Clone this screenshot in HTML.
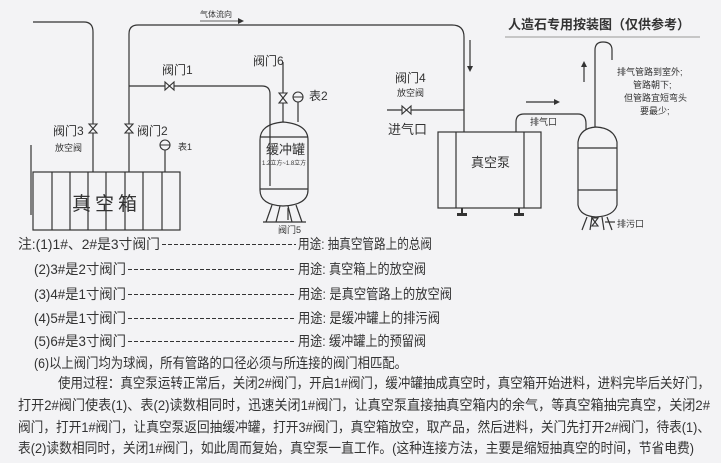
<!DOCTYPE html><html><head><meta charset="utf-8"><style>
body{margin:0;background:#f3f3f5}
svg{display:block}
text{font-family:"Liberation Sans","Noto Sans CJK SC",sans-serif;fill:#333}
.n{font-family:"Noto Serif CJK SC","Noto Sans CJK SC",sans-serif;font-size:14px;fill:#222}
</style></head><body>
<svg width="721" height="463" viewBox="0 0 721 463" xmlns="http://www.w3.org/2000/svg">
<rect width="721" height="463" fill="#f3f3f5"/>
<g fill="none" stroke="#333" stroke-width="1.2">
<path d="M33 22 H84 Q93 22 93 32 V172"/>
<path d="M129 172 V34 Q129 25 138 25 H452 Q464 25 464 37 V132"/>
<path d="M129 86 H262 Q270 86 270 94 V186"/>
<path d="M165 150 V172"/>
<rect x="33" y="172" width="147" height="58"/>
<path d="M52 172V230M70 172V230M88 172V230M106 172V230M125 172V230M143 172V230M162 172V230"/>
<path d="M31 145 V215"/>
<path d="M260 140 Q260 124 283 122 Q308 124 308 140 V190 Q308 205 283 206 Q260 205 260 190 Z"/>
<path d="M260 189 H308 M260 137 H308"/>
<path d="M283 62 V122 M298 102 V122"/>
<path d="M272 205 L266 222 M280 206 L276 222 M288 206 L292 222 M296 205 L302 222 M263 222 H306"/>
<path d="M288 208 V220"/>
<rect x="438" y="132" width="103" height="76"/>
<path d="M456 132V208M524 132V208"/>
<path d="M462 208V215M519 208V215"/>
<path d="M387 110 H464"/>
<path d="M516 132 V122 Q516 114 524 114 H578 Q586 114 586 124 V130"/>
<path d="M578 142 Q580 128 596 127 Q614 128 617 142 V205 Q614 216 596 217 Q580 216 578 205 Z"/>
<path d="M578 148 H617 M578 190 H617"/>
<path d="M595 127 V50 Q595 42 603 42 Q612 42 612 50 V60"/>
<path d="M587 217 L582 230 M592 217 L590 230 M602 217 L604 230 M607 217 L612 230"/>
<path d="M605 222 H615"/>
<path d="M505 37 H700" stroke="#aaa"/>
<path d="M200 21 H238" stroke-width="0.8"/>
<path d="M470 40 V68"/>
<path d="M584 82 V66"/>
<path d="M526 102 H555"/>
</g>
<g fill="#333">
<path d="M238 18 L244 21 L238 24Z"/>
<path d="M467 66 L470 72 L473 66Z"/>
<path d="M581 67 L584 61 L587 67Z"/>
<path d="M554 99 L560 102 L554 105Z"/>
<rect x="457" y="213" width="10" height="3"/><rect x="514" y="213" width="10" height="3"/>
<rect x="461" y="208" width="2" height="6"/><rect x="518" y="208" width="2" height="6"/>
</g>
<g fill="#f3f3f5" stroke="#333" stroke-width="1.1">
<path d="M89 124 L97 124 L89 133 L97 133Z"/>
<path d="M125 124 L133 124 L125 133 L133 133Z"/>
<path d="M165 82 L165 90 L174 82 L174 90Z"/>
<path d="M279 93 L287 93 L279 103 L287 103Z"/>
<path d="M402 106 L402 114 L411 106 L411 114Z"/>
<path d="M592 218 L598 218 L592 226 L598 226Z"/>
<circle cx="165" cy="145" r="5"/><circle cx="298" cy="97" r="5"/>
</g>
<path d="M160 145H170M293 97H303" stroke="#333"/>
<text x="200" y="17" font-size="8">气体流向</text>
<text x="162" y="74" font-size="12">阀门1</text>
<text x="253" y="65" font-size="12">阀门6</text>
<text x="309" y="100" font-size="12">表2</text>
<text x="53" y="135" font-size="12">阀门3</text>
<text x="55" y="151" font-size="9">放空阀</text>
<text x="137" y="135" font-size="12">阀门2</text>
<text x="178" y="150" font-size="9">表1</text>
<text x="72" y="210" font-size="19" letter-spacing="4">真空箱</text>
<text x="266" y="154" font-size="13">缓冲罐</text>
<text x="262" y="165" font-size="6" fill="#777">1.2立方~1.8立方</text>
<text x="278" y="233" font-size="9">阀门5</text>
<text x="395" y="82" font-size="12">阀门4</text>
<text x="397" y="96" font-size="9">放空阀</text>
<text x="388" y="134" font-size="13">进气口</text>
<text x="471" y="167" font-size="13">真空泵</text>
<text x="530" y="125" font-size="9">排气口</text>
<text x="617" y="227" font-size="9">排污口</text>
<text x="617" y="75" font-size="9">排气管路到室外;</text>
<text x="633" y="88" font-size="9">管路朝下;</text>
<text x="624" y="101" font-size="9">但管路宜短弯头</text>
<text x="640" y="114" font-size="9">要最少;</text>
<text x="508" y="29" font-size="13" font-weight="bold" fill="#222">人造石专用按装图（仅供参考）</text>
<g stroke="#333" stroke-width="1" stroke-dasharray="4,2">
<path d="M162 244.5H296M128 269.5H296M128 294.5H296M128 318.5H296M128 341.5H296"/>
</g>
<g class="n">
<text x="18" y="249" textLength="142" lengthAdjust="spacingAndGlyphs">注:(1)1#、2#是3寸阀门</text>
<text x="298" y="249" textLength="134" lengthAdjust="spacingAndGlyphs">用途: 抽真空管路上的总阀</text>
<text x="34" y="274" textLength="92" lengthAdjust="spacingAndGlyphs">(2)3#是2寸阀门</text>
<text x="298" y="274" textLength="128" lengthAdjust="spacingAndGlyphs">用途: 真空箱上的放空阀</text>
<text x="34" y="299" textLength="92" lengthAdjust="spacingAndGlyphs">(3)4#是1寸阀门</text>
<text x="298" y="299" textLength="154" lengthAdjust="spacingAndGlyphs">用途: 是真空管路上的放空阀</text>
<text x="34" y="323" textLength="92" lengthAdjust="spacingAndGlyphs">(4)5#是1寸阀门</text>
<text x="298" y="323" textLength="142" lengthAdjust="spacingAndGlyphs">用途: 是缓冲罐上的排污阀</text>
<text x="34" y="346" textLength="92" lengthAdjust="spacingAndGlyphs">(5)6#是3寸阀门</text>
<text x="298" y="346" textLength="128" lengthAdjust="spacingAndGlyphs">用途: 缓冲罐上的预留阀</text>
<text x="34" y="368" textLength="373" lengthAdjust="spacingAndGlyphs">(6)以上阀门均为球阀，所有管路的口径必须与所连接的阀门相匹配。</text>
<text x="58" y="388" textLength="652" lengthAdjust="spacingAndGlyphs">使用过程：真空泵运转正常后，关闭2#阀门，开启1#阀门，缓冲罐抽成真空时，真空箱开始进料，进料完毕后关好门，</text>
<text x="18" y="410" textLength="692" lengthAdjust="spacingAndGlyphs">打开2#阀门使表(1)、表(2)读数相同时，迅速关闭1#阀门，让真空泵直接抽真空箱内的余气，等真空箱抽完真空，关闭2#</text>
<text x="18" y="432" textLength="692" lengthAdjust="spacingAndGlyphs">阀门，打开1#阀门，让真空泵返回抽缓冲罐，打开3#阀门，真空箱放空，取产品，然后进料，关门先打开2#阀门，待表(1)、</text>
<text x="18" y="453" textLength="676" lengthAdjust="spacingAndGlyphs">表(2)读数相同时，关闭1#阀门，如此周而复始，真空泵一直工作。(这种连接方法，主要是缩短抽真空的时间，节省电费)</text>
</g>
</svg>
</body></html>
